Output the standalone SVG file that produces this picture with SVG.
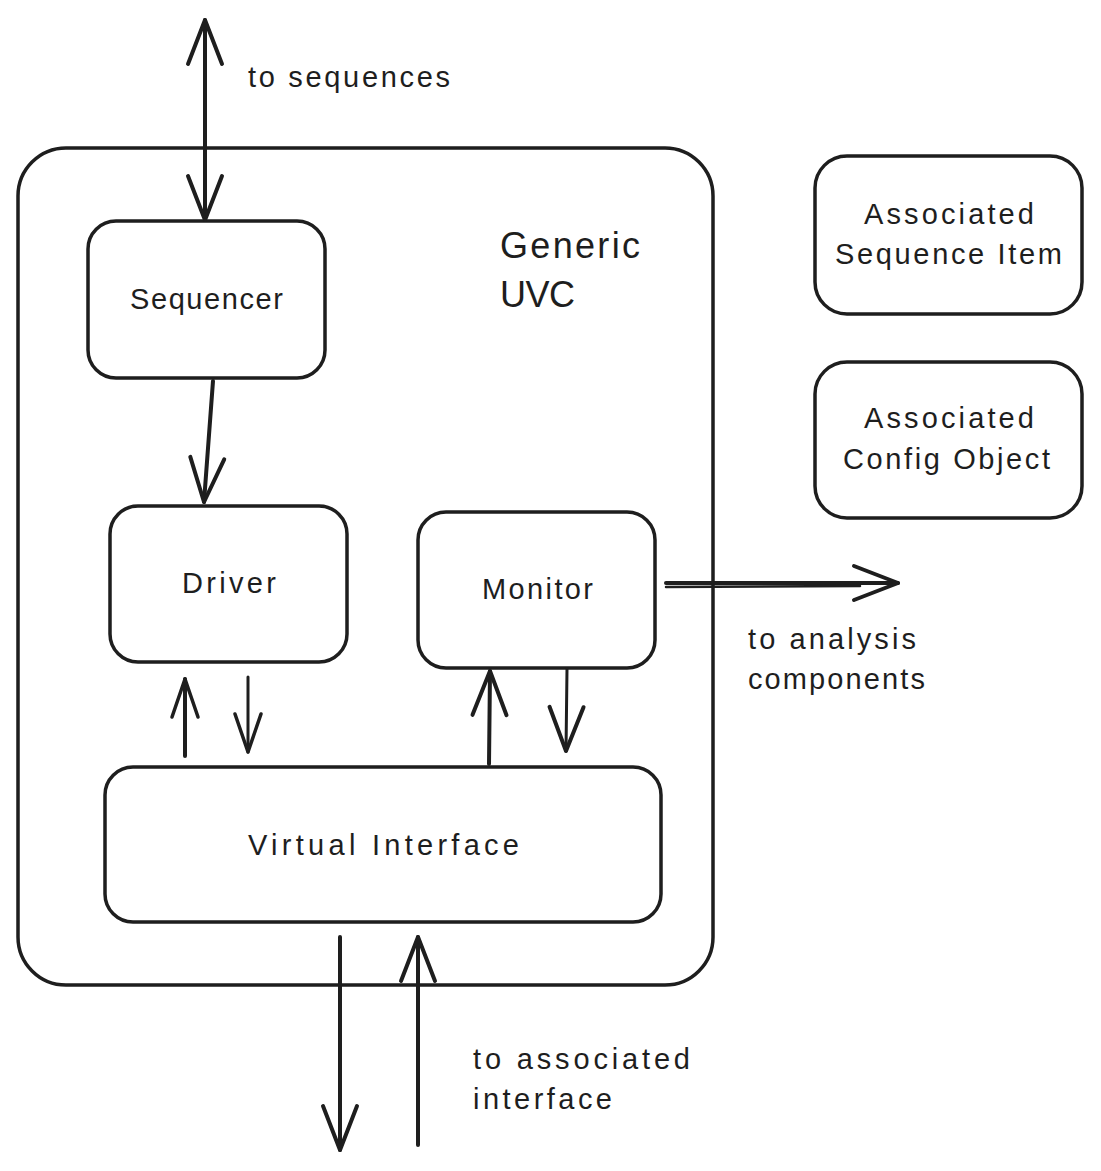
<svg xmlns="http://www.w3.org/2000/svg" width="1101" height="1171" viewBox="0 0 1101 1171">
<style>
.box{fill:none;stroke:#1e1e1e;stroke-width:3.5;stroke-linejoin:round}
.ln{fill:none;stroke:#1e1e1e;stroke-width:4;stroke-linecap:round}
.t{font-family:"Liberation Sans",Arial,sans-serif;fill:#1e1e1e;font-size:29px}
.big{font-size:36px}
</style>
<defs>
<marker id="hL" markerUnits="userSpaceOnUse" viewBox="-50 -25 60 50" markerWidth="60" markerHeight="50" refX="0" refY="0" orient="auto-start-reverse" overflow="visible">
<path d="M-44,-17 L0,0 L-44,17" fill="none" stroke="#1e1e1e" stroke-width="4" stroke-linecap="round" stroke-linejoin="round"/>
</marker>
<marker id="hS" markerUnits="userSpaceOnUse" viewBox="-50 -25 60 50" markerWidth="60" markerHeight="50" refX="0" refY="0" orient="auto-start-reverse" overflow="visible">
<path d="M-38,-13 L0,0 L-38,13" fill="none" stroke="#1e1e1e" stroke-width="3.5" stroke-linecap="round" stroke-linejoin="round"/>
</marker>
</defs>
<rect width="1101" height="1171" fill="#ffffff"/>

<g id="generic-uvc">
<rect class="box" x="18" y="148" width="695" height="837" rx="48"/>
<text class="t big" x="500" y="258" textLength="140" lengthAdjust="spacing">Generic</text>
<text class="t big" x="500" y="307" textLength="75" lengthAdjust="spacing">UVC</text>
</g>

<g id="sequencer">
<rect class="box" x="88" y="221" width="237" height="157" rx="28"/>
<text class="t" x="130" y="309" textLength="153" lengthAdjust="spacing">Sequencer</text>
</g>

<g id="driver">
<rect class="box" x="110" y="506" width="237" height="156" rx="28"/>
<text class="t" x="182" y="593" textLength="94" lengthAdjust="spacing">Driver</text>
</g>

<g id="monitor">
<rect class="box" x="418" y="512" width="237" height="156" rx="28"/>
<text class="t" x="482" y="599" textLength="111" lengthAdjust="spacing">Monitor</text>
</g>

<g id="virtual-interface">
<rect class="box" x="105" y="767" width="556" height="155" rx="28"/>
<text class="t" x="248" y="855" textLength="271" lengthAdjust="spacing">Virtual Interface</text>
</g>

<g id="associated-sequence-item">
<rect class="box" x="815" y="156" width="267" height="158" rx="32"/>
<text class="t" x="864" y="224" textLength="170" lengthAdjust="spacing">Associated</text>
<text class="t" x="835" y="264" textLength="227" lengthAdjust="spacing">Sequence Item</text>
</g>

<g id="associated-config-object">
<rect class="box" x="815" y="362" width="267" height="156" rx="32"/>
<text class="t" x="864" y="428" textLength="170" lengthAdjust="spacing">Associated</text>
<text class="t" x="843" y="469" textLength="207" lengthAdjust="spacing">Config Object</text>
</g>

<g id="connectors">
<path class="ln" d="M205,20 L205,220" marker-start="url(#hL)" marker-end="url(#hL)"/>
<path class="ln" d="M213,381 L204,502" marker-end="url(#hL)"/>
<path class="ln" d="M185,756 L185,679" marker-end="url(#hS)"/>
<path class="ln" d="M248,677 L248,752" marker-end="url(#hS)" style="stroke-width:3"/>
<path class="ln" d="M489,764 L490,671" marker-end="url(#hL)"/>
<path class="ln" d="M567,669 L566,751" marker-end="url(#hL)" style="stroke-width:3"/>
<path class="ln" d="M666,583 L898,583" marker-end="url(#hL)"/>
<path class="ln" d="M666,587 L860,586" style="stroke-width:2.5"/>
<path class="ln" d="M340,937 L340,1150" marker-end="url(#hL)"/>
<path class="ln" d="M418,1145 L418,937" marker-end="url(#hL)"/>
</g>

<g id="labels">
<text class="t" x="248" y="87" textLength="202" lengthAdjust="spacing">to sequences</text>
<text class="t" x="748" y="649" textLength="168" lengthAdjust="spacing">to analysis</text>
<text class="t" x="748" y="689" textLength="177" lengthAdjust="spacing">components</text>
<text class="t" x="473" y="1069" textLength="217" lengthAdjust="spacing">to associated</text>
<text class="t" x="473" y="1109" textLength="139" lengthAdjust="spacing">interface</text>
</g>
</svg>
